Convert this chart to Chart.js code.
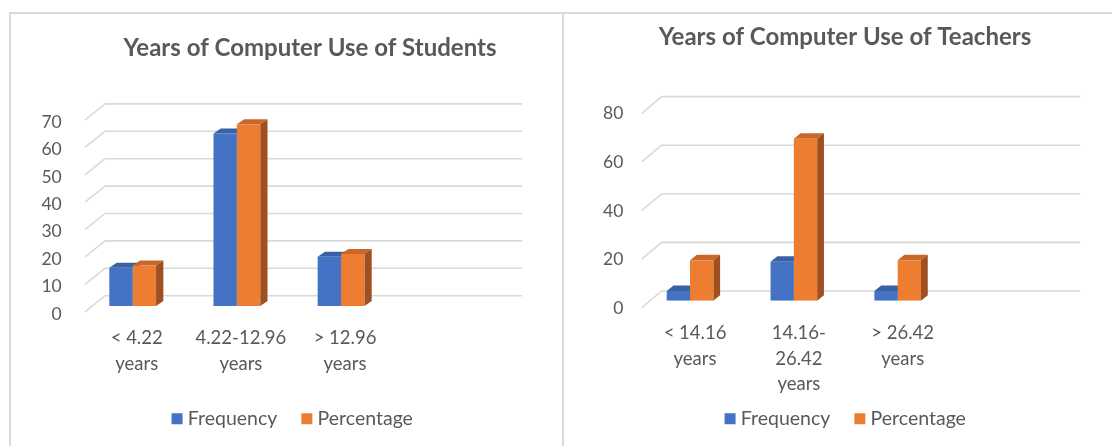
<!DOCTYPE html>
<html>
<head>
<meta charset="utf-8">
<title>Years of Computer Use</title>
<script src="https://cdn.jsdelivr.net/npm/chart.js@4.4.1/dist/chart.umd.min.js"></script>
<style>
  html, body { margin: 0; padding: 0; background: #ffffff; overflow: hidden; }
  body { width: 1112px; height: 446px; position: relative; }
  .panel { position: absolute; top: 12px; height: 440px; border-top: 2px solid #d9d9d9; border-left: 2px solid #d9d9d9; }
  #p1 { left: 9px; width: 551px; }
  #p2 { left: 562px; width: 548px; }
  canvas { display: block; }
</style>
</head>
<body>
<div class="panel" id="p1"><canvas id="students" width="551" height="432"></canvas></div>
<div class="panel" id="p2"><canvas id="teachers" width="548" height="432"></canvas></div>
<script>
// ---- data ----
const seriesNames = ['Frequency', 'Percentage'];

const studentTitle = 'Years of Computer Use of Students';
const studentCategories = [['< 4.22', 'years'], ['4.22-12.96', 'years'], ['> 12.96', 'years']];
const studentFrequency = [14, 63, 18];
const studentPercentage = [14.74, 66.32, 18.95];
const studentAxisTicks = [0, 10, 20, 30, 40, 50, 60, 70];

const teacherTitle = 'Years of Computer Use of Teachers';
const teacherCategories = [['< 14.16', 'years'], ['14.16-', '26.42', 'years'], ['> 26.42', 'years']];
const teacherFrequency = [4, 16, 4];
const teacherPercentage = [16.67, 66.67, 16.67];
const teacherAxisTicks = [0, 20, 40, 60, 80];

// ---- styling ----
const TEXT = '#595959';
const FONT = 'Lato';
const BLUE = { front: '#4472c4', top: '#3a60a6', side: '#2d4d86' };
const ORANGE = { front: '#ed7d31', top: '#c9672a', side: '#9e5020' };

Chart.defaults.font.family = FONT;
Chart.defaults.color = TEXT;

// Back wall / floor grid in oblique projection, plus the top and side faces of each column.
const perspective = {
  id: 'perspective',
  beforeDatasetsDraw(chart, args, o) {
    const { ctx, chartArea: a, scales: { y } } = chart;
    ctx.save();
    ctx.strokeStyle = o.gridColor;
    ctx.lineWidth = o.gridWidth;
    ctx.lineJoin = 'round';
    const fx = a.left + o.frontDx, bx = a.left + o.backDx, rx = a.right + o.extend;
    y.ticks.forEach(t => {
      const py = y.getPixelForValue(t.value);
      ctx.beginPath();
      ctx.moveTo(fx, py + o.frontDy);
      ctx.lineTo(bx, py + o.backDy);
      ctx.lineTo(rx, py + o.backDy);
      ctx.stroke();
    });
    const dx = o.depthDx, dy = o.depthDy;
    chart.data.datasets.forEach((ds, i) => {
      chart.getDatasetMeta(i).data.forEach(bar => {
        const p = bar.getProps(['x', 'y', 'base', 'width'], true);
        const l = p.x - p.width / 2, r = p.x + p.width / 2;
        ctx.fillStyle = ds.topColor;
        ctx.beginPath();
        ctx.moveTo(l, p.y); ctx.lineTo(l + dx, p.y + dy); ctx.lineTo(r + dx, p.y + dy); ctx.lineTo(r, p.y);
        ctx.closePath(); ctx.fill();
        ctx.fillStyle = ds.sideColor;
        ctx.beginPath();
        ctx.moveTo(r, p.y); ctx.lineTo(r + dx, p.y + dy); ctx.lineTo(r + dx, p.base + dy); ctx.lineTo(r, p.base);
        ctx.closePath(); ctx.fill();
      });
    });
    ctx.restore();
  }
};

// Places the title and the legend on their own centres.
const centring = {
  id: 'centring',
  afterLayout(chart, args, o) {
    const t = chart.titleBlock;
    if (t && o.title != null) {
      t.left = o.title - chart.width / 2;
      t.right = o.title + chart.width / 2;
    }
    const lg = chart.legend;
    if (lg && o.legend != null) {
      const w = lg.right - lg.left;
      lg.left = o.legend - w / 2;
      lg.right = o.legend + w / 2;
      lg.top = o.legendTop;
      lg.bottom = o.legendTop + 60;
      lg.height = 60;
    }
  }
};

function build(id, title, categories, freq, pct, axisTicks, L) {
  const step = axisTicks[1] - axisTicks[0];
  return new Chart(document.getElementById(id), {
    type: 'bar',
    data: {
      labels: categories,
      datasets: [
        { label: seriesNames[0], data: freq, backgroundColor: BLUE.front, topColor: BLUE.top, sideColor: BLUE.side, borderWidth: 0 },
        { label: seriesNames[1], data: pct, backgroundColor: ORANGE.front, topColor: ORANGE.top, sideColor: ORANGE.side, borderWidth: 0 }
      ]
    },
    options: {
      responsive: false,
      animation: false,
      devicePixelRatio: 1,
      layout: { padding: { left: 0, right: L.padRight, top: 0, bottom: 0 } },
      datasets: { bar: { categoryPercentage: 0.4487, barPercentage: 1 } },
      scales: {
        x: {
          grid: { display: false, drawTicks: false },
          border: { display: false },
          ticks: {
            color: TEXT, padding: L.xPad, labelOffset: L.xLabelOffset, maxRotation: 0, autoSkip: false,
            font: { family: FONT, size: 18.5, lineHeight: 1.37 }
          },
          afterFit(s) { s.height = L.xHeight; }
        },
        y: {
          min: axisTicks[0],
          max: axisTicks[axisTicks.length - 1],
          grid: { display: false, drawTicks: false },
          border: { display: false },
          ticks: {
            stepSize: step, color: TEXT, padding: L.yPad, labelOffset: L.yLabelOffset,
            font: { family: FONT, size: 17.5 }
          },
          afterFit(s) { s.width = L.yWidth; }
        }
      },
      plugins: {
        title: {
          display: true, text: title, color: TEXT,
          font: { family: FONT, size: 24, weight: 'bold', lineHeight: 1.2 },
          padding: { top: L.titleTop, bottom: L.titleBottom }
        },
        legend: {
          position: 'bottom',
          maxHeight: 30,
          labels: {
            usePointStyle: true, pointStyle: 'rect', boxWidth: 2, boxHeight: 11, padding: 28.5,
            color: TEXT, font: { family: FONT, size: 19.5 }
          }
        },
        tooltip: { enabled: false },
        perspective: {
          gridColor: '#d9d9d9', gridWidth: 1.6,
          frontDx: L.frontDx, frontDy: L.frontDy, backDx: L.backDx, backDy: L.backDy, extend: L.extend,
          depthDx: L.depthDx, depthDy: L.depthDy
        },
        centring: { title: L.titleX, legend: L.legendX, legendTop: 366.5 }
      }
    },
    plugins: [perspective, centring]
  });
}

function draw() {
  build('students', studentTitle, studentCategories, studentFrequency, studentPercentage, studentAxisTicks, {
    padRight: 168.9, yWidth: 69.6, yPad: 18.9, yLabelOffset: 8,
    xHeight: 110, xPad: 19.65, xLabelOffset: 4,
    titleTop: 19.6, titleBottom: 51.8, titleX: 299, legendX: 283.5,
    frontDx: 4.4, frontDy: 5.8, backDx: 24.4, backDy: -10.3, extend: 129,
    depthDx: 7.3, depthDy: -5
  });
  build('teachers', teacherTitle, teacherCategories, teacherFrequency, teacherPercentage, teacherAxisTicks, {
    padRight: 162.4, yWidth: 74.1, yPad: 14.8, yLabelOffset: 7.5,
    xHeight: 115.3, xPad: 19.95, xLabelOffset: 5,
    titleTop: 8.6, titleBottom: 54.9, titleX: 281, legendX: 283.5,
    frontDx: 3.6, frontDy: 7, backDx: 23.6, backDy: -9.7, extend: 130.8,
    depthDx: 6.8, depthDy: -5.5
  });
}

if (document.fonts && document.fonts.load) {
  Promise.all([document.fonts.load('17px Lato'), document.fonts.load('bold 24px Lato')]).then(draw, draw);
} else {
  draw();
}
</script>
</body>
</html>
